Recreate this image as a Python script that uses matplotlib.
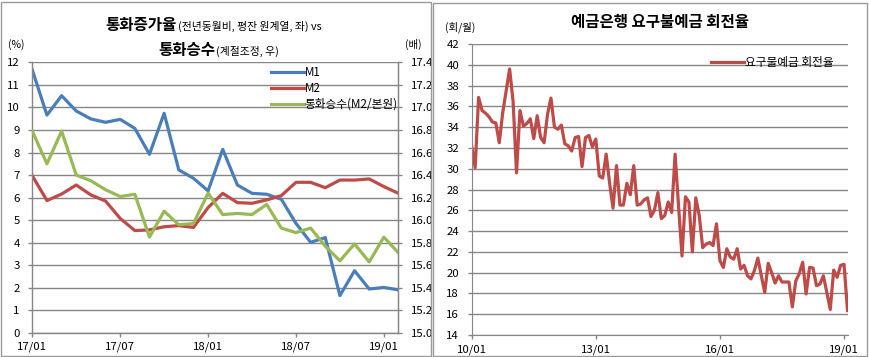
import matplotlib
matplotlib.use("Agg")
import matplotlib.pyplot as plt
from matplotlib.patches import Rectangle
import numpy as np

plt.rcParams['font.family'] = ['Noto Sans CJK KR', 'DejaVu Sans']

# ---------------- data ----------------
left_months = ['17/01', '17/02', '17/03', '17/04', '17/05', '17/06', '17/07', '17/08', '17/09',
               '17/10', '17/11', '17/12', '18/01', '18/02', '18/03', '18/04', '18/05', '18/06',
               '18/07', '18/08', '18/09', '18/10', '18/11', '18/12', '19/01', '19/02']
m1 = [11.66, 9.66, 10.52, 9.84, 9.49, 9.34, 9.47, 9.07, 7.92, 9.74, 7.23, 6.86, 6.30,
      8.14, 6.56, 6.19, 6.15, 5.93, 4.86, 4.02, 4.23, 1.66, 2.76, 1.95, 2.02, 1.91]
m2 = [6.97, 5.87, 6.16, 6.56, 6.12, 5.85, 5.08, 4.54, 4.57, 4.71, 4.76, 4.68, 5.56,
      6.19, 5.78, 5.75, 5.90, 6.09, 6.68, 6.68, 6.44, 6.78, 6.78, 6.83, 6.49, 6.19]
multiplier = [16.79, 16.50, 16.79, 16.40, 16.35, 16.27, 16.21, 16.23, 15.85, 16.08, 15.96, 15.97, 16.24,
              16.05, 16.06, 16.05, 16.14, 15.93, 15.89, 15.93, 15.77, 15.64, 15.79, 15.63, 15.85, 15.71]
left_tick_labels = ['17/01', '17/07', '18/01', '18/07', '19/01']

right_start_year = 2010
turnover = [32.15, 30.1, 36.86, 35.6, 35.35, 35.0, 34.5, 34.4, 32.5, 35.4,
            37.5, 39.6, 36.5, 29.6, 35.6, 34.1, 34.35, 34.8, 32.9, 35.1,
            33.0, 32.5, 35.25, 36.8, 34.0, 33.8, 34.2, 32.4, 32.2, 31.7,
            33.0, 33.1, 30.2, 33.0, 33.2, 32.1, 32.85, 29.3, 29.1, 31.4,
            28.6, 26.2, 30.3, 26.5, 26.5, 28.6, 27.5, 30.3, 26.5, 26.6,
            27.0, 27.2, 25.4, 26.0, 27.7, 25.2, 25.5, 26.8, 25.8, 31.4,
            26.4, 21.6, 27.3, 26.8, 22.0, 27.2, 25.5, 22.4, 22.75, 22.9,
            22.6, 24.7, 21.15, 20.5, 22.3, 21.5, 21.3, 22.3, 20.35, 20.7,
            19.7, 19.4, 20.2, 21.4, 19.7, 18.1, 20.9, 20.0, 19.0, 19.7,
            19.1, 19.1, 19.1, 16.7, 19.2, 19.9, 21.0, 17.95, 20.5, 20.45,
            18.75, 18.9, 19.7, 18.1, 16.45, 20.25, 19.55, 20.7, 20.8, 16.35]
right_tick_labels = ['10/01', '13/01', '16/01', '19/01']

c_m1 = '#4A7EBB'
c_m2 = '#BE4B48'
c_mul = '#98B954'
grid_c = '#868686'
lw = 2.3

fig = plt.figure(figsize=(8.69, 3.57), dpi=100)
W, H = 869, 357

def fx(px):
    return px / W

def fy(py):
    return 1 - py / H

# panel borders
fig.patches.append(Rectangle((fx(1), fy(356)), fx(430), 354 / H, transform=fig.transFigure,
                             fill=False, edgecolor='#9a9a9a', lw=1))
fig.patches.append(Rectangle((fx(433), fy(356)), fx(434), 353 / H, transform=fig.transFigure,
                             fill=False, edgecolor='#9a9a9a', lw=1))

tick_fs = 8.2

# ---------------- left chart ----------------
ax = fig.add_axes([fx(32.3), fy(333), fx(398.5 - 32.3), (333 - 62.3) / H])
x = np.arange(len(left_months))
ax.set_xlim(0, len(left_months) - 1)
ax.set_ylim(0, 12)
ax.set_yticks(np.arange(0, 13, 1))
ax.yaxis.grid(True, color=grid_c, lw=1)
ax.set_axisbelow(True)
ax.set_xticks([left_months.index(l) for l in left_tick_labels])
ax.set_xticklabels(left_tick_labels)
ax.spines['top'].set_visible(False)
for s in ['left', 'bottom', 'right']:
    ax.spines[s].set_color(grid_c)
    ax.spines[s].set_linewidth(1)
ax.tick_params(axis='both', colors=grid_c, labelcolor='black', labelsize=tick_fs, length=3, width=1)
ax.tick_params(axis='y', pad=6)
ax.tick_params(axis='x', pad=3)

ax2 = ax.twinx()
ax2.set_ylim(15.0, 17.4)
ax2.set_yticks(np.round(np.arange(15.0, 17.41, 0.2), 1))
ax2.set_yticklabels([f'{v:.1f}' for v in np.arange(15.0, 17.41, 0.2)])
for s in ['top', 'left', 'bottom']:
    ax2.spines[s].set_visible(False)
ax2.spines['right'].set_color(grid_c)
ax2.tick_params(axis='y', colors=grid_c, labelcolor='black', labelsize=tick_fs, length=3, width=1, pad=6)

ax.plot(x, m1, color=c_m1, lw=lw, solid_joinstyle='round', label='M1')
ax.plot(x, m2, color=c_m2, lw=lw, solid_joinstyle='round', label='M2')
ax2.plot(x, multiplier, color=c_mul, lw=lw, solid_joinstyle='round', label='통화승수(M2/본원)')
h1, lb1 = ax.get_legend_handles_labels()
h2, lb2 = ax2.get_legend_handles_labels()
ax2.legend(h1 + h2, lb1 + lb2, loc='upper left', bbox_to_anchor=(fx(271), fy(66)),
           bbox_transform=fig.transFigure, frameon=False, fontsize=8.4,
           handlelength=2.8, handletextpad=0.1, labelspacing=0.25, borderpad=0,
           borderaxespad=0)

# left titles
fig.text(fx(177), fy(25), '통화증가율', ha='right', va='center', fontsize=11.2, fontweight='bold')
fig.text(fx(178), fy(26), '(전년동월비, 평잔 원계열, 좌) vs', ha='left', va='center', fontsize=7.8)
fig.text(fx(215), fy(50), '통화승수', ha='right', va='center', fontsize=11.2, fontweight='bold')
fig.text(fx(216), fy(51), '(계절조정, 우)', ha='left', va='center', fontsize=7.8)
fig.text(fx(8), fy(45), '(%)', ha='left', va='center', fontsize=7.5)
fig.text(fx(405), fy(44), '(배)', ha='left', va='center', fontsize=7.5)

# ---------------- right chart ----------------
axr = fig.add_axes([fx(471.7), fy(335), fx(847.5 - 471.7), (335 - 44) / H])
xr = np.arange(len(turnover))
axr.set_xlim(0, len(turnover) - 1)
axr.set_ylim(14, 42)
axr.set_yticks(np.arange(14, 43, 2))
axr.yaxis.grid(True, color=grid_c, lw=1)
axr.set_axisbelow(True)
rt_pos = [(int(l[:2]) + 2000 - right_start_year) * 12 + int(l[3:]) - 1 for l in right_tick_labels]
axr.set_xticks(rt_pos)
axr.set_xticklabels(right_tick_labels)
for s in ['top', 'right']:
    axr.spines[s].set_visible(False)
for s in ['left', 'bottom']:
    axr.spines[s].set_color(grid_c)
axr.tick_params(axis='both', colors=grid_c, labelcolor='black', labelsize=tick_fs, length=3, width=1)
axr.tick_params(axis='y', pad=6)
axr.plot(xr, turnover, color=c_m2, lw=lw, solid_joinstyle='round', label='요구불예금 회전율')
axr.legend(loc='upper left', bbox_to_anchor=(fx(711), fy(56)), bbox_transform=fig.transFigure,
           frameon=False, fontsize=8.4, handlelength=2.8, handletextpad=0.1, borderpad=0,
           borderaxespad=0)

fig.text(fx(660), fy(22), '예금은행 요구불예금 회전율', ha='center', va='center', fontsize=11.2,
         fontweight='bold')
fig.text(fx(445), fy(27), '(회/월)', ha='left', va='center', fontsize=7.5)

fig.savefig('out.png', dpi=100)
